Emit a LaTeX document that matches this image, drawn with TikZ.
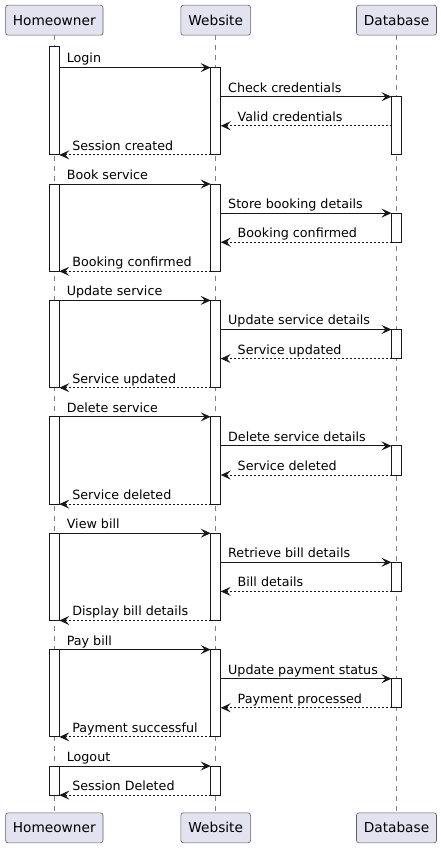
\documentclass[tikz,border=0pt]{standalone}
\usepackage{fontspec}
\setmainfont{DejaVu Sans}
\usetikzlibrary{arrows.meta}
\definecolor{partfill}{HTML}{E2E2F0}
\definecolor{ink}{HTML}{181818}
\tikzset{
  part/.style={draw=ink!70, line width=0.6pt, fill=partfill, rounded corners=2.5pt, inner sep=0pt, minimum height=30pt, font=\fontsize{13.7pt}{16pt}\selectfont},
  life/.style={draw=ink!55, line width=0.5pt, dash pattern=on 5pt off 5pt},
  actbar/.style={draw=ink, line width=1pt, fill=white, inner sep=0pt, outer sep=0pt, minimum width=10pt},
  msg/.style={draw=ink, line width=1pt, -{Stealth[length=10pt,width=9pt,inset=4pt]}},
  ret/.style={msg, dash pattern=on 2pt off 2pt},
  lbl/.style={anchor=base west, inner sep=0pt, yshift=4.6pt, text=black, font=\fontsize{12.7pt}{15pt}\selectfont}
}
\newcommand\actbox[4]{\pgfmathsetmacro\acth{#4-#3}\pgfmathsetmacro\actc{(#4+#3)/2}\node[actbar, minimum height=\acth pt] (#1) at (#2,\actc) {};}
\newcommand\callmsg[4]{\draw[msg] (#1 |- 0,#3) -- (#2 |- 0,#3) node[pos=0, lbl, xshift=7pt] {#4};}
\newcommand\retmsg[5]{\draw[ret] (#1 |- 0,#3) -- (#2 |- 0,#3) node[pos=1, lbl, xshift=#5] {#4};}
\begin{document}
\begin{tikzpicture}[x=1pt, y=-1pt]
\useasboundingbox (0,0) rectangle (441,848);
% participants
\node[part, minimum width=97.4pt] (hT) at (54.3,20.2) {Homeowner};
\node[part, minimum width=69.7pt] (wT) at (215.7,20.2) {Website};
\node[part, minimum width=80pt] (dT) at (396.5,20.2) {Database};
\node[part, minimum width=97.4pt] (hB) at (54.3,827.8) {Homeowner};
\node[part, minimum width=69.7pt] (wB) at (215.7,827.8) {Website};
\node[part, minimum width=80pt] (dB) at (396.5,827.8) {Database};
\draw[life] (hT) -- (hB);
\draw[life] (wT) -- (wB);
\draw[life] (dT) -- (dB);
% activation bars
\actbox{h1}{54.3}{46.7}{154.9}
\actbox{w1}{215.7}{67.6}{154.9}
\actbox{d1}{396.5}{96.7}{154.9}
\actbox{h2}{54.3}{184.0}{271.3}
\actbox{w2}{215.7}{184.0}{271.3}
\actbox{d2}{396.5}{213.1}{242.2}
\actbox{h3}{54.3}{300.4}{387.7}
\actbox{w3}{215.7}{300.4}{387.7}
\actbox{d3}{396.5}{329.5}{358.6}
\actbox{h4}{54.3}{416.8}{504.1}
\actbox{w4}{215.7}{416.8}{504.1}
\actbox{d4}{396.5}{445.9}{475.0}
\actbox{h5}{54.3}{533.2}{620.5}
\actbox{w5}{215.7}{533.2}{620.5}
\actbox{d5}{396.5}{562.3}{591.4}
\actbox{h6}{54.3}{649.6}{736.9}
\actbox{w6}{215.7}{649.6}{736.9}
\actbox{d6}{396.5}{678.7}{707.8}
\actbox{h7}{54.3}{766.0}{795.1}
\actbox{w7}{215.7}{766.0}{795.1}
% block 1
\callmsg{h1.east}{w1.west}{67.6}{Login}
\callmsg{w1.east}{d1.west}{96.7}{Check credentials}
\retmsg{d1.west}{w1.east}{125.8}{Valid credentials}{16.5pt}
\retmsg{w1.west}{h1.east}{154.9}{Session created}{12.5pt}
% block 2
\callmsg{h2.east}{w2.west}{184.0}{Book service}
\callmsg{w2.east}{d2.west}{213.1}{Store booking details}
\retmsg{d2.west}{w2.east}{242.2}{Booking confirmed}{16.5pt}
\retmsg{w2.west}{h2.east}{271.3}{Booking confirmed}{12.5pt}
% block 3
\callmsg{h3.east}{w3.west}{300.4}{Update service}
\callmsg{w3.east}{d3.west}{329.5}{Update service details}
\retmsg{d3.west}{w3.east}{358.6}{Service updated}{16.5pt}
\retmsg{w3.west}{h3.east}{387.7}{Service updated}{12.5pt}
% block 4
\callmsg{h4.east}{w4.west}{416.8}{Delete service}
\callmsg{w4.east}{d4.west}{445.9}{Delete service details}
\retmsg{d4.west}{w4.east}{475.0}{Service deleted}{16.5pt}
\retmsg{w4.west}{h4.east}{504.1}{Service deleted}{12.5pt}
% block 5
\callmsg{h5.east}{w5.west}{533.2}{View bill}
\callmsg{w5.east}{d5.west}{562.3}{Retrieve bill details}
\retmsg{d5.west}{w5.east}{591.4}{Bill details}{16.5pt}
\retmsg{w5.west}{h5.east}{620.5}{Display bill details}{12.5pt}
% block 6
\callmsg{h6.east}{w6.west}{649.6}{Pay bill}
\callmsg{w6.east}{d6.west}{678.7}{Update payment status}
\retmsg{d6.west}{w6.east}{707.8}{Payment processed}{16.5pt}
\retmsg{w6.west}{h6.east}{736.9}{Payment successful}{12.5pt}
% block 7
\callmsg{h7.east}{w7.west}{766.0}{Logout}
\retmsg{w7.west}{h7.east}{795.1}{Session Deleted}{12.5pt}
\end{tikzpicture}
\end{document}
